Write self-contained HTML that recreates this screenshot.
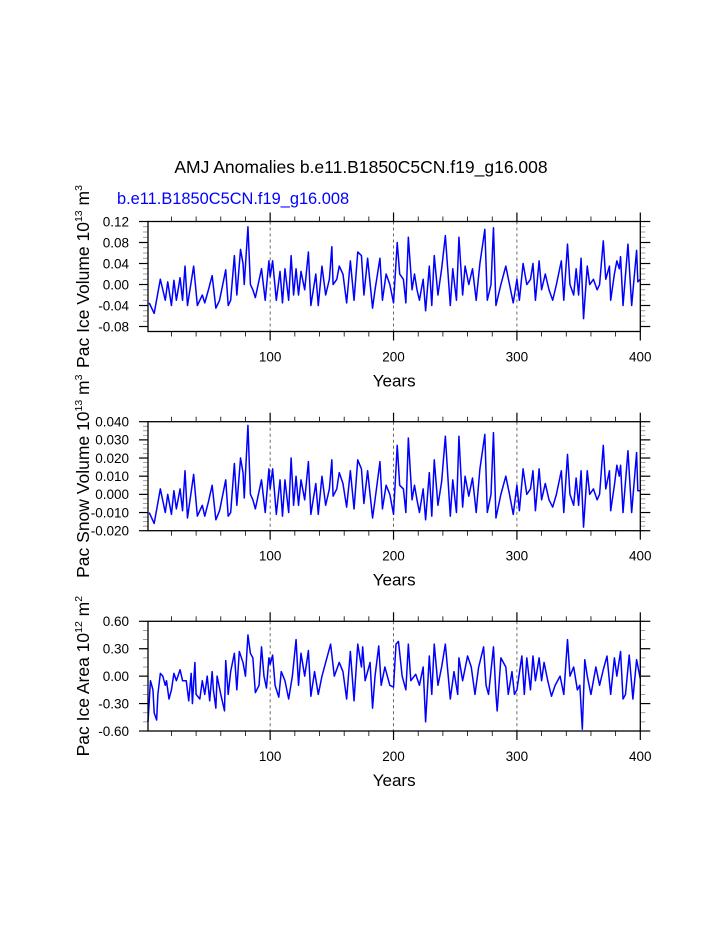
<!DOCTYPE html>
<html><head><meta charset="utf-8"><style>
html,body{margin:0;padding:0;background:#fff;}
svg{display:block;font-family:"Liberation Sans",Arial,sans-serif;}
</style></head><body>
<svg id="chart" width="723" height="935" viewBox="0 0 723 935" xmlns="http://www.w3.org/2000/svg">
<rect width="723" height="935" fill="#fff"/>
<text x="361" y="173" font-size="17.5" text-anchor="middle" fill="#000">AMJ Anomalies b.e11.B1850C5CN.f19_g16.008</text>
<text x="117" y="204" font-size="16.4" fill="#0000ff">b.e11.B1850C5CN.f19_g16.008</text>
</svg>
<script>
const yearsA = [2,6,11,15,17,20,22,24,27,29,31,33,38,41,45,47,50,53,56,59,64,66,68,71,73,76,78,79,82,84,86,88,93,96,99,100,102,105,108,110,112,115,117,119,121,123,125,128,131,133,137,139,142,145,148,150,151,154,156,159,162,165,168,171,174,176,179,183,185,189,191,194,197,200,203,205,208,210,212,215,217,219,221,224,226,229,231,233,236,239,242,246,248,251,253,256,258,261,264,267,270,274,276,279,281,283,287,291,294,297,300,302,305,308,311,313,315,318,320,323,326,329,332,336,338,341,343,346,348,350,352,354,357,359,362,365,367,370,372,375,376,379,381,383,384,386,390,393,397,398,400];
const iceVolume = [-0.035,-0.055,0.01,-0.03,0.005,-0.04,0.008,-0.03,0.013,-0.03,
0.035,-0.04,0.035,-0.04,-0.02,-0.035,-0.01,0.017,-0.045,-0.03,
0.028,-0.04,-0.03,0.055,-0.02,0.067,0.04,0.0,0.11,0.0,
-0.01,-0.025,0.03,-0.03,0.045,0.015,0.045,-0.03,0.025,-0.035,
0.03,-0.03,0.055,-0.02,0.03,-0.02,0.025,-0.01,0.062,-0.04,
0.02,-0.04,0.035,-0.02,0.01,0.072,0.0,0.01,0.035,0.02,
-0.035,0.045,-0.03,0.062,0.055,-0.02,0.05,-0.045,-0.01,0.05,
-0.03,0.02,0.0,-0.035,0.08,0.02,0.01,-0.035,0.09,-0.01,
0.02,-0.01,-0.03,0.01,-0.05,0.035,-0.04,0.055,-0.02,0.03,
0.093,-0.04,0.03,-0.03,0.09,-0.02,0.035,0.0,0.03,-0.03,
0.04,0.105,-0.03,0.0,0.108,-0.04,0.0,0.035,0.0,-0.035,
0.01,-0.03,0.04,0.0,0.01,0.04,-0.03,0.045,-0.01,0.02,
-0.01,-0.03,0.0,0.045,-0.03,0.077,0.0,-0.02,0.03,-0.02,
0.05,-0.065,0.035,0.0,0.01,-0.01,0.0,0.083,0.01,0.035,
-0.03,0.02,0.045,0.03,0.053,-0.04,0.077,-0.04,0.065,0.005,
0.01];
const snowVolume = [-0.01,-0.016,0.003,-0.01,0.0,-0.011,0.002,-0.008,0.003,-0.009,
0.013,-0.013,0.011,-0.012,-0.006,-0.012,-0.004,0.005,-0.014,-0.009,
0.008,-0.012,-0.01,0.017,-0.006,0.02,0.012,-0.002,0.038,0.0,
-0.003,-0.008,0.008,-0.01,0.014,0.003,0.014,-0.011,0.008,-0.012,
0.008,-0.01,0.02,-0.006,0.01,-0.006,0.008,-0.003,0.018,-0.011,
0.006,-0.011,0.01,-0.006,0.003,0.019,-0.001,0.003,0.012,0.006,
-0.007,0.013,-0.008,0.019,0.014,-0.005,0.013,-0.013,-0.003,0.018,
-0.008,0.005,0.0,-0.011,0.027,0.005,0.003,-0.01,0.031,-0.003,
0.005,-0.003,-0.01,0.003,-0.014,0.012,-0.012,0.019,-0.006,0.007,
0.032,-0.012,0.008,-0.01,0.032,-0.007,0.01,-0.001,0.009,-0.01,
0.014,0.033,-0.01,0.0,0.034,-0.013,0.0,0.01,0.0,-0.011,
0.005,-0.009,0.014,0.0,0.003,0.013,-0.009,0.014,-0.003,0.006,
-0.003,-0.007,0.0,0.013,-0.01,0.022,0.0,-0.006,0.009,-0.006,
0.013,-0.018,0.013,0.0,0.003,-0.003,0.0,0.027,0.003,0.013,
-0.009,0.005,0.016,0.01,0.016,-0.01,0.024,-0.01,0.023,0.002,
0.002];
const yearsB = [1,3,5,6,8,9,11,13,15,16,18,20,22,24,27,29,32,34,36,37,39,40,43,45,47,49,51,53,54,56,57,60,63,64,66,68,71,73,75,78,80,82,84,86,88,91,93,95,97,99,100,102,104,107,109,112,115,118,121,123,125,128,131,133,136,139,142,147,149,152,156,159,162,165,168,171,174,175,177,181,183,185,188,190,193,197,200,202,204,207,210,212,214,218,221,224,226,229,231,233,236,239,242,246,249,252,253,256,260,263,266,269,273,275,277,281,283,284,287,291,293,296,298,300,304,306,308,311,313,315,318,320,322,325,328,331,335,338,341,343,346,349,351,353,355,357,360,364,367,370,373,376,379,381,384,386,388,391,394,397,400];
const iceArea = [-0.5,-0.05,-0.15,-0.4,-0.48,-0.2,0.03,0.0,-0.1,-0.05,
-0.25,-0.15,0.03,-0.05,0.07,-0.05,-0.05,-0.27,0.03,-0.3,
0.15,-0.2,-0.25,-0.05,-0.2,0.0,-0.27,0.05,-0.15,-0.35,
0.0,-0.2,-0.38,0.17,-0.2,0.05,0.25,-0.15,0.27,0.15,
0.0,0.45,0.25,0.2,-0.18,-0.1,0.32,0.0,-0.13,0.2,
0.13,0.23,-0.1,-0.23,0.05,-0.05,-0.25,0.0,0.4,-0.1,
0.25,0.0,0.28,-0.22,0.05,-0.2,0.0,0.25,0.35,0.0,
0.15,0.05,-0.25,0.27,-0.27,0.35,0.1,0.32,-0.05,0.15,
-0.35,0.0,0.33,-0.1,0.1,-0.1,-0.12,0.35,0.38,0.0,
-0.15,0.35,-0.05,0.02,-0.1,0.1,-0.5,0.22,-0.2,0.35,
-0.1,0.1,0.35,-0.25,0.05,-0.2,0.2,-0.05,0.22,0.1,
-0.2,0.1,0.32,-0.1,-0.2,0.32,-0.2,-0.38,0.2,0.1,
-0.2,0.05,-0.2,-0.15,0.22,-0.2,0.2,-0.15,0.22,-0.05,
0.2,-0.05,0.15,-0.05,-0.22,-0.1,0.0,-0.2,0.4,0.0,
0.1,-0.15,-0.1,-0.58,0.18,0.0,-0.2,0.1,-0.1,0.07,
0.22,-0.2,0.2,0.0,0.27,-0.25,-0.2,0.23,-0.25,0.18,
-0.03];
const xTickLabels = ["100","200","300","400"];
const yTicksA = ["0.12","0.08","0.04","0.00","-0.04","-0.08"];
const yTicksB = ["0.040","0.030","0.020","0.010","0.000","-0.010","-0.020"];
const yTicksC = ["0.60","0.30","0.00","-0.30","-0.60"];

const NS = "http://www.w3.org/2000/svg";
const svg = document.getElementById('chart');
const L = 148, R = 640.3;
function xs(yr){ return L + (yr - 1) * (R - L) / 399; }
function mk(tag, attrs, parent){
  const e = document.createElementNS(NS, tag);
  for (const k in attrs) e.setAttribute(k, attrs[k]);
  (parent || svg).appendChild(e);
  return e;
}

function panel(cfg){
  const g = mk('g', {});
  
  
  const top = cfg.top, bot = cfg.bottom;
  const ys = v => top + (cfg.ymax - v) * (bot - top) / (cfg.ymax - cfg.ymin);
  for (let v = cfg.minorStart; v >= cfg.ymin - 1e-9; v -= cfg.minor) {
    const y = ys(v);
    const t1 = mk('line', {x1: L-5, x2: L, y1: y, y2: y, stroke: '#888', 'stroke-width': 0.8}, g);
    
    
    const t2 = mk('line', {x1: R, x2: R+5, y1: y, y2: y, stroke: '#888', 'stroke-width': 0.8}, g);
    
    
  }
  for (let yr = 20; yr <= 400; yr += 20) {
    if (yr % 100 === 0) continue;
    const x = xs(yr);
    const a = mk('line', {x1: x, x2: x, y1: top-5, y2: top, stroke: '#000', 'stroke-width': 0.8}, g);
    
    
    const b = mk('line', {x1: x, x2: x, y1: bot, y2: bot+5, stroke: '#000', 'stroke-width': 0.8}, g);
    
    
  }
  [100, 200, 300].forEach(yr => {
    const d = mk('line', {x1: xs(yr), x2: xs(yr), y1: top, y2: bot, stroke: '#444', 'stroke-width': 0.8, 'stroke-dasharray': '3,3'}, g);
    
    
  });
  xTickLabels.forEach(lbl => {
    const x = xs(+lbl);
    const a = mk('line', {x1: x, x2: x, y1: top-9, y2: top, stroke: '#000', 'stroke-width': 1.2}, g);
    
    
    const b = mk('line', {x1: x, x2: x, y1: bot, y2: bot+9, stroke: '#000', 'stroke-width': 1.2}, g);
    
    
    const t = mk('text', {x: x, y: bot + 30, 'font-size': 13.5, 'text-anchor': 'middle', fill: '#000'}, g);
    t.textContent = lbl;
    
    
  });
  cfg.labels.forEach(lbl => {
    const y = ys(parseFloat(lbl));
    const a = mk('line', {x1: L-9, x2: L, y1: y, y2: y, stroke: '#000', 'stroke-width': 1.2}, g);
    
    
    const b = mk('line', {x1: R, x2: R+10, y1: y, y2: y, stroke: '#000', 'stroke-width': 1.2}, g);
    
    
    const t = mk('text', {x: 129, y: y + 4.8, 'font-size': 13.5, 'text-anchor': 'end', fill: '#000'}, g);
    t.textContent = lbl;
    
    
  });
  let d = '';
  cfg.years.forEach((yr, i) => { d += (i ? 'L' : 'M') + xs(yr).toFixed(2) + ',' + ys(cfg.values[i]).toFixed(2); });
  const p = mk('path', {d: d, fill: 'none', stroke: '#0000ff', 'stroke-width': 1.5, 'stroke-linejoin': 'round'}, g);
  
  
  const f = mk('rect', {x: L, y: top, width: R - L, height: bot - top, fill: 'none', stroke: '#000', 'stroke-width': 1.3}, g);
  
  
  const xt = mk('text', {x: (L + R) / 2, y: bot + 55, 'font-size': 17, 'text-anchor': 'middle', fill: '#000'}, g);
  xt.textContent = 'Years';
  
  
  const cy = (top + bot) / 2;
  const yt = mk('text', {x: 0, y: 0, 'font-size': 17.5, 'text-anchor': 'middle', fill: '#000', transform: 'translate(89,' + cy + ') rotate(-90)'}, g);
  
  
  const parts = [[cfg.ytitle + ' 10', 0, 17.5], [cfg.exp, -7, 10.5], [' m', 7, 17.5], [cfg.unitExp, -7, 10.5], ['', 7, 17.5]];
  parts.forEach(pr => {
    const s = document.createElementNS(NS, 'tspan');
    s.setAttribute('dy', pr[1]);
    s.setAttribute('font-size', pr[2]);
    s.textContent = pr[0];
    yt.appendChild(s);
  });
}

panel({name: 'pac-ice-volume-panel', top: 221.5, bottom: 331.5, ymax: 0.12, ymin: -0.0895, minor: 0.01, minorStart: 0.12,
  labels: yTicksA, years: yearsA, values: iceVolume, ytitle: 'Pac Ice Volume', exp: '13', unitExp: '3'});
panel({name: 'pac-snow-volume-panel', top: 421.7, bottom: 530.7, ymax: 0.04, ymin: -0.02, minor: 0.0025, minorStart: 0.04,
  labels: yTicksB, years: yearsA, values: snowVolume, ytitle: 'Pac Snow Volume', exp: '13', unitExp: '3'});
panel({name: 'pac-ice-area-panel', top: 621.3, bottom: 731, ymax: 0.6, ymin: -0.6, minor: 0.1, minorStart: 0.6,
  labels: yTicksC, years: yearsB, values: iceArea, ytitle: 'Pac Ice Area', exp: '12', unitExp: '2'});
</script>
</body></html>
